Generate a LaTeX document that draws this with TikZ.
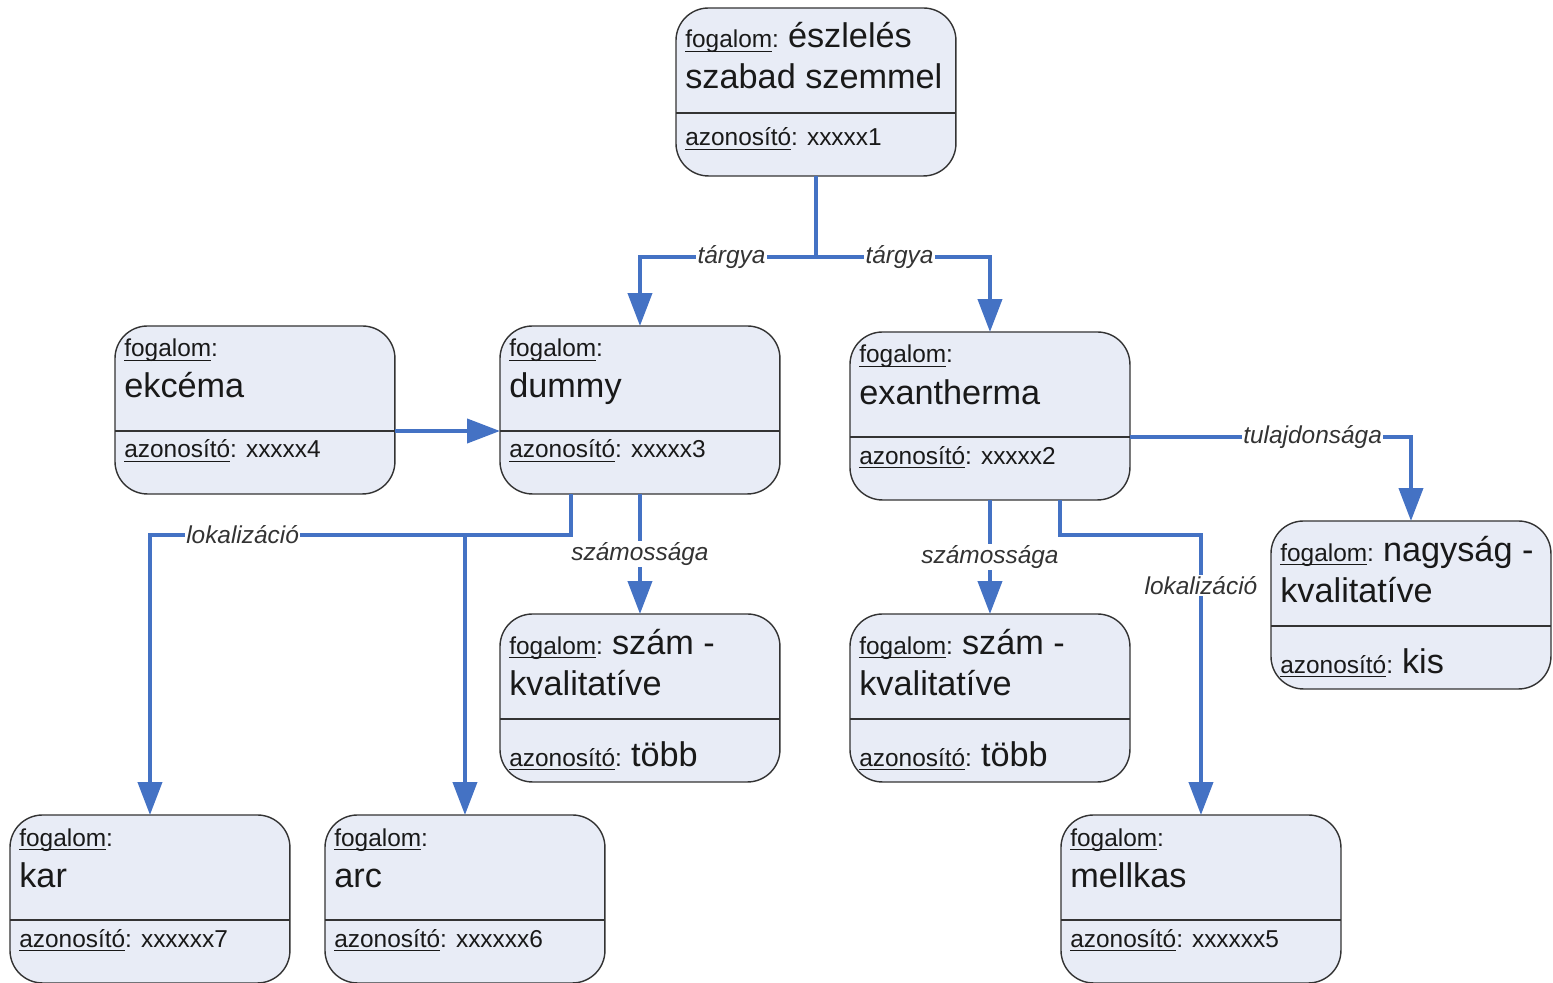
\documentclass[tikz,border=0pt]{standalone}
\usepackage{fontspec}
\setmainfont{Liberation Sans}
\usetikzlibrary{calc,arrows.meta}
\definecolor{boxfill}{HTML}{E8ECF6}
\definecolor{linkblue}{HTML}{4472C4}
\newcommand{\kicsi}{\fontsize{13.9}{16}\selectfont}
\newcommand{\nagy}{\fontsize{19.5}{23}\selectfont}
\newcommand{\alah}[1]{\setbox0=\hbox{#1}\rlap{\rule[-2.4pt]{\wd0}{0.7pt}}\box0}
\tikzset{
	% ------- every something
	every node/.style={
		font=\kicsi,
	},
	% ------- custom
	concept/.style={
		draw=black!80, line width=0.8pt, fill=boxfill,
		rounded corners=0.65cm,
		minimum width=5.6cm, minimum height=3.36cm,
		inner sep=0pt, outer sep=0pt,
		anchor=north west,
	},
	conceptline/.style={
		anchor=base west, inner sep=0pt, text=black!90,
	},
	divider/.style={
		draw=black!80, line width=0.8pt,
	},
	link/.style={
		draw=linkblue, line width=2.3pt,
	},
	arrow/.style={
		link,
		-{Triangle[length=0.66cm,width=0.48cm]},
	},
	lbl/.style={
		fill=white, inner sep=0.8pt, text=black!80,
		font=\kicsi\itshape,
	},
}
% name, top left corner, line 1 base, line 1, line 2, id base, id
\newcommand{\fogalomdoboz}[7]{%
	\node[concept] (#1) at (#2) {};
	\coordinate (#1-dw) at ($(#1.north west)+(0,105)$);
	\coordinate (#1-de) at ($(#1.north east)+(0,105)$);
	\draw[divider] (#1-dw) -- (#1-de);
	\node[conceptline] at ($(#1.north west)+(9,#3)$) {#4};
	\node[conceptline] at ($(#1.north west)+(9,#3+41)$) {#5};
	\node[conceptline] at ($(#1.north west)+(9,#6)$) {#7};
}
\newcommand{\fog}{\alah{fogalom}:}
\newcommand{\azon}{\alah{azonosító}:}

\begin{document}
\begin{tikzpicture}[x=0.02cm,y=-0.02cm]

% frame %{{{1

	\useasboundingbox (0,0) rectangle (1553,983);

% concepts %{{{1

	\fogalomdoboz{top}{676,8}{40}{\fog{} \nagy észlelés}{\nagy szabad szemmel}{138}{\azon{} xxxxx1}
	\fogalomdoboz{ekcema}{115,326}{31}{\fog}{\nagy ekcéma}{132}{\azon{} xxxxx4}
	\fogalomdoboz{dummy}{500,326}{31}{\fog}{\nagy dummy}{132}{\azon{} xxxxx3}
	\fogalomdoboz{exantherma}{850,332}{31}{\fog}{\nagy exantherma}{132}{\azon{} xxxxx2}
	\fogalomdoboz{nagysag}{1271,521}{40}{\fog{} \nagy nagyság -}{\nagy kvalitatíve}{152}{\azon{} \nagy kis}
	\fogalomdoboz{szam1}{500,614}{40}{\fog{} \nagy szám -}{\nagy kvalitatíve}{152}{\azon{} \nagy több}
	\fogalomdoboz{szam2}{850,614}{40}{\fog{} \nagy szám -}{\nagy kvalitatíve}{152}{\azon{} \nagy több}
	\fogalomdoboz{kar}{10,815}{31}{\fog}{\nagy kar}{132}{\azon{} xxxxxx7}
	\fogalomdoboz{arc}{325,815}{31}{\fog}{\nagy arc}{132}{\azon{} xxxxxx6}
	\fogalomdoboz{mellkas}{1061,815}{31}{\fog}{\nagy mellkas}{132}{\azon{} xxxxxx5}

% relations %{{{1

	\draw[arrow] (top.south) -- ++(0,81) coordinate (tsplit)
		-| node[lbl,pos=0.24] {tárgya} (dummy.north);
	\draw[arrow] (tsplit) -| node[lbl,pos=0.24] {tárgya} (exantherma.north);

	\draw[arrow] (ekcema-de) -- (dummy-dw);

	\draw[arrow] ($(dummy.south)+(-69,0)$) -- ++(0,41) coordinate (lsplit)
		-| node[lbl,pos=0.39] {lokalizáció} (kar.north);
	\draw[arrow] (lsplit -| arc.north) -- (arc.north);

	\draw[arrow] (dummy.south) -- node[lbl] {számossága} (szam1.north);
	\draw[arrow] (exantherma.south) -- node[lbl] {számossága} (szam2.north);

	\draw[arrow] ($(exantherma.south)+(70,0)$) -- ++(0,35)
		-| node[lbl,pos=0.59] {lokalizáció} (mellkas.north);

	\draw[arrow] (exantherma-de) -| node[lbl,pos=0.325] {tulajdonsága} (nagysag.north);

% closing %{{{1

\end{tikzpicture}
\end{document}
